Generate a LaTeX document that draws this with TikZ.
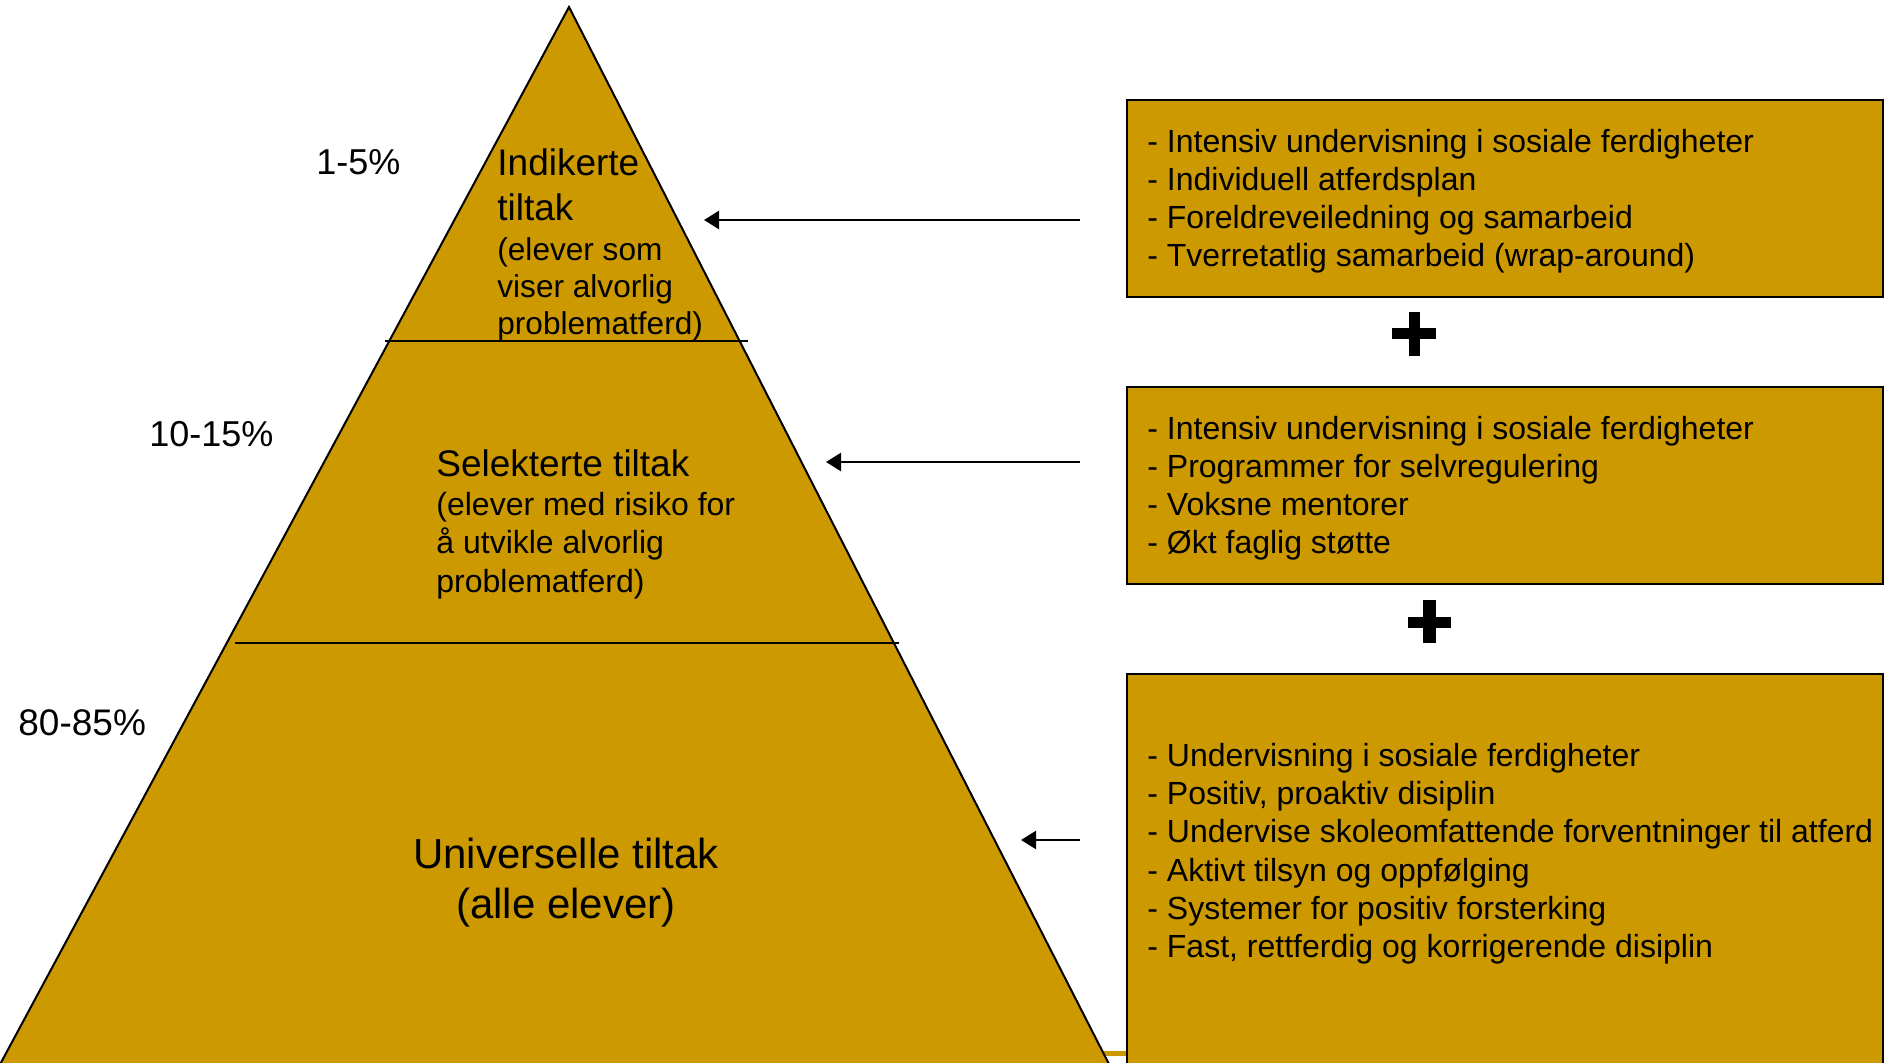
\documentclass[tikz,border=0pt]{standalone}
\usepackage{fontspec}
\setmainfont{Liberation Sans}
\usetikzlibrary{arrows.meta}
\definecolor{gold}{RGB}{204,153,0}
\begin{document}
\begin{tikzpicture}[x=0.5pt,y=-0.5pt,
  pyr/.style={fill=gold,draw=black,line width=1pt,line join=miter},
  divline/.style={draw=black,line width=1.3pt},
  infobox/.style={draw=black,fill=gold,line width=1.15pt,anchor=north west,inner sep=0pt,minimum width=378pt},
  boxtext/.style={anchor=north west,inner sep=0pt,align=left,font=\fontsize{16}{19}\selectfont},
  pct/.style={anchor=base west,inner sep=0pt,font=\fontsize{18}{21}\selectfont},
  tiertitle/.style={inner sep=0pt,font=\fontsize{18.5}{22.5}\selectfont},
  tiersub/.style={anchor=north west,inner sep=0pt,align=left},
  pointer/.style={draw=black,line width=1.25pt,-{Triangle[length=7.5pt,width=9pt]}},
  plusbar/.style={fill=black}
]
\useasboundingbox (0,0) rectangle (1884,1063);
\clip (0,0) rectangle (1884,1063);
% gold stub at the bottom
\coordinate (gl) at (1100,1053);
\coordinate (gr) at (1126,1053);
\draw[gold,line width=2.5pt] (gl) -- (gr);
% pyramid
\coordinate (apex) at (569,7);
\coordinate (baseL) at (-3,1070);
\coordinate (baseR) at (1112,1070);
\path[pyr] (baseL) -- (apex) -- (baseR) -- cycle;
\coordinate (d1l) at (385,341);
\coordinate (d1r) at (748,341);
\coordinate (d2l) at (235,643);
\coordinate (d2r) at (899,643);
\draw[divline] (d1l) -- (d1r);
\draw[divline] (d2l) -- (d2r);
% percentages
\node[pct] (p1) at (316,175) {1-5\%};
\node[pct] (p2) at (149,447) {10-15\%};
\node[pct,font=\fontsize{18.5}{21}\selectfont] (p3) at (18,735) {80-85\%};
% tier texts
\node[tiertitle,anchor=north west,align=left] (indt) at (497,143.5) {\strut Indikerte\\\strut tiltak};
\node[tiersub,font=\fontsize{15.8}{18.5}\selectfont] (inds) at (497,234.1) {\strut (elever som\\\strut viser alvorlig\\\strut problematferd)};
\node[tiertitle,anchor=base west] (selt) at (436,477) {Selekterte tiltak};
\node[tiersub,font=\fontsize{16}{19.25}\selectfont] (sels) at (436,488) {\strut (elever med risiko for\\\strut å utvikle alvorlig\\\strut problematferd)};
\node[inner sep=0pt,anchor=north,align=center,font=\fontsize{21}{25}\selectfont] (univ) at (566,833) {\strut Universelle tiltak\\\strut (alle elever)};
% boxes
\node[infobox,minimum height=98.5pt] (b1) at (1126,99) {};
\node[infobox,minimum height=98.5pt] (b2) at (1126,386) {};
\node[infobox,minimum height=201pt] (b3) at (1126,673) {};
\node[boxtext] (t1) at (1147,125.4) {\strut - Intensiv undervisning i sosiale ferdigheter\\\strut - Individuell atferdsplan\\\strut - Foreldreveiledning og samarbeid\\\strut - Tverretatlig samarbeid (wrap-around)};
\node[boxtext] (t2) at (1147,412.7) {\strut - Intensiv undervisning i sosiale ferdigheter\\\strut - Programmer for selvregulering\\\strut - Voksne mentorer\\\strut - Økt faglig støtte};
\node[boxtext,font=\fontsize{16}{19.1}\selectfont] (t3) at (1147,739.3) {\strut - Undervisning i sosiale ferdigheter\\\strut - Positiv, proaktiv disiplin\\\strut - Undervise skoleomfattende forventninger til atferd\\\strut - Aktivt tilsyn og oppfølging\\\strut - Systemer for positiv forsterking\\\strut - Fast, rettferdig og korrigerende disiplin};
% plus signs
\fill[plusbar] (1392.3,328.5) rectangle (1435.7,339.5);
\fill[plusbar] (1408.5,312.3) rectangle (1419.5,355.7);
\fill[plusbar] (1407.5,617) rectangle (1451,628);
\fill[plusbar] (1423,600) rectangle (1436,643);
% arrows
\coordinate (a1s) at (1080,220);
\coordinate (a1e) at (704,220);
\coordinate (a2s) at (1080,462);
\coordinate (a2e) at (826,462);
\coordinate (a3s) at (1080,840);
\coordinate (a3e) at (1021,840);
\draw[pointer] (a1s) -- (a1e);
\draw[pointer] (a2s) -- (a2e);
\draw[pointer] (a3s) -- (a3e);
\end{tikzpicture}
\end{document}
